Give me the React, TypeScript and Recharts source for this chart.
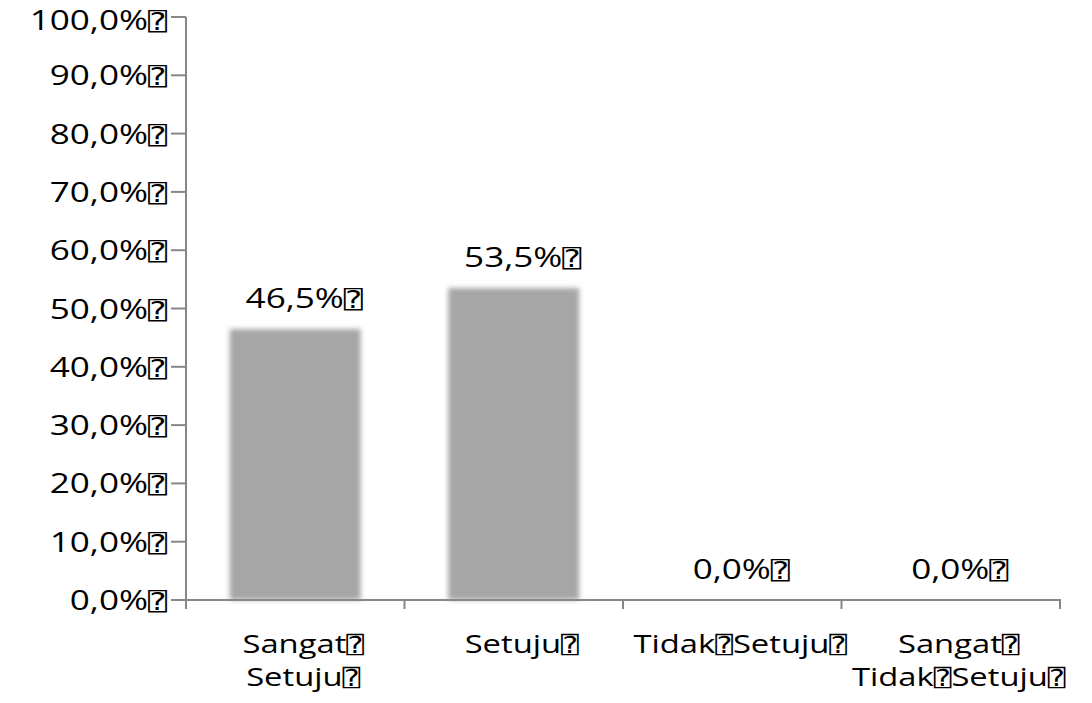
import { ComposedChart, Bar, Line, XAxis, YAxis } from "recharts";

const BOX = "\u2370";
const categories = ["Sangat" + BOX + "\nSetuju" + BOX, "Setuju" + BOX, "Tidak" + BOX + "Setuju" + BOX, "Sangat" + BOX + "\nTidak" + BOX + "Setuju" + BOX];
const values = [46.5, 53.5, 0, 0];
const yTicks = [0, 10, 20, 30, 40, 50, 60, 70, 80, 90, 100];

const data = categories.map((name, i) => ({ name, value: values[i] }));

const W = 1092;
const H = 703;
const margin = { top: 17, right: 32, left: 0, bottom: 0 };
const Y_AXIS_W = 186;
const band = (W - margin.left - margin.right - Y_AXIS_W) / categories.length;
const axisColor = "#878787";
const SX_NUM = 1.3;
const SX_CAT = 1.26;
const FONT = "Open Sans";

const pct = (v: number) => v.toFixed(1).replace(".", ",") + "%" + BOX;

// split text so the box glyph can use a font that has it
function withBox(s: string) {
  const parts = s.split(BOX);
  return parts.map((p, i) => (
    <tspan key={i}>
      {p}
      {i < parts.length - 1 && (
        <tspan fontFamily="DejaVu Sans Mono" fontSize="0.9em">
          {BOX}
        </tspan>
      )}
    </tspan>
  ));
}

function YTick(props: any) {
  const { x, y, payload } = props;
  const base = Math.max(y + 10, 30);
  return (
    <text
      transform={`translate(${x},${base}) scale(${SX_NUM},1)`}
      textAnchor="end"
      fontFamily={FONT}
      fontSize={27}
      fill="#000"
    >
      {withBox(pct(payload.value))}
    </text>
  );
}

function XTick(props: any) {
  const { x, y, payload, index } = props;
  const lines = String(payload.value).split("\n");
  return (
    <g>
      <line x1={x - band / 2} x2={x - band / 2} y1={y} y2={y + 9} stroke={axisColor} strokeWidth={2} />
      {index === categories.length - 1 && (
        <line x1={x + band / 2} x2={x + band / 2} y1={y - 1} y2={y + 9} stroke={axisColor} strokeWidth={2} />
      )}
      {lines.map((l, i) => (
        <text
          key={i}
          transform={`translate(${x + 8},${y + 53 + i * 33}) scale(${SX_CAT},1)`}
          textAnchor="middle"
          fontFamily={FONT}
          fontSize={26}
          fill="#000"
        >
          {withBox(l)}
        </text>
      ))}
    </g>
  );
}

function ValueLabel(props: any) {
  const { x, y, value } = props;
  return (
    <text
      transform={`translate(${x + 9},${y - 21}) scale(${SX_NUM},1)`}
      textAnchor="middle"
      fontFamily={FONT}
      fontSize={27}
      fill="#000"
    >
      {withBox(pct(value))}
    </text>
  );
}

export default function App() {
  return (
    <div style={{ position: "absolute", left: 0, top: 0, background: "#fff" }}>
      <ComposedChart width={W} height={H} data={data} margin={margin} barCategoryGap="20%">
        <defs>
          <filter id="soft" x="-10%" y="-10%" width="120%" height="120%">
            <feGaussianBlur stdDeviation="2.5" />
          </filter>
        </defs>
        <YAxis
          width={Y_AXIS_W}
          domain={[0, 100]}
          ticks={yTicks}
          interval={0}
          tickSize={15}
          tickMargin={4}
          axisLine={{ stroke: axisColor, strokeWidth: 2 }}
          tickLine={{ stroke: axisColor, strokeWidth: 2 }}
          tick={<YTick />}
        />
        <XAxis
          dataKey="name"
          height={H - 600}
          interval={0}
          tickSize={0}
          tickMargin={0}
          axisLine={{ stroke: axisColor, strokeWidth: 2 }}
          tickLine={false}
          tick={<XTick />}
        />
        <Bar dataKey="value" fill="#A6A6A6" filter="url(#soft)" isAnimationActive={false} />
        <Line
          dataKey="value"
          stroke="none"
          dot={false}
          activeDot={false}
          label={<ValueLabel />}
          isAnimationActive={false}
        />
      </ComposedChart>
    </div>
  );
}
